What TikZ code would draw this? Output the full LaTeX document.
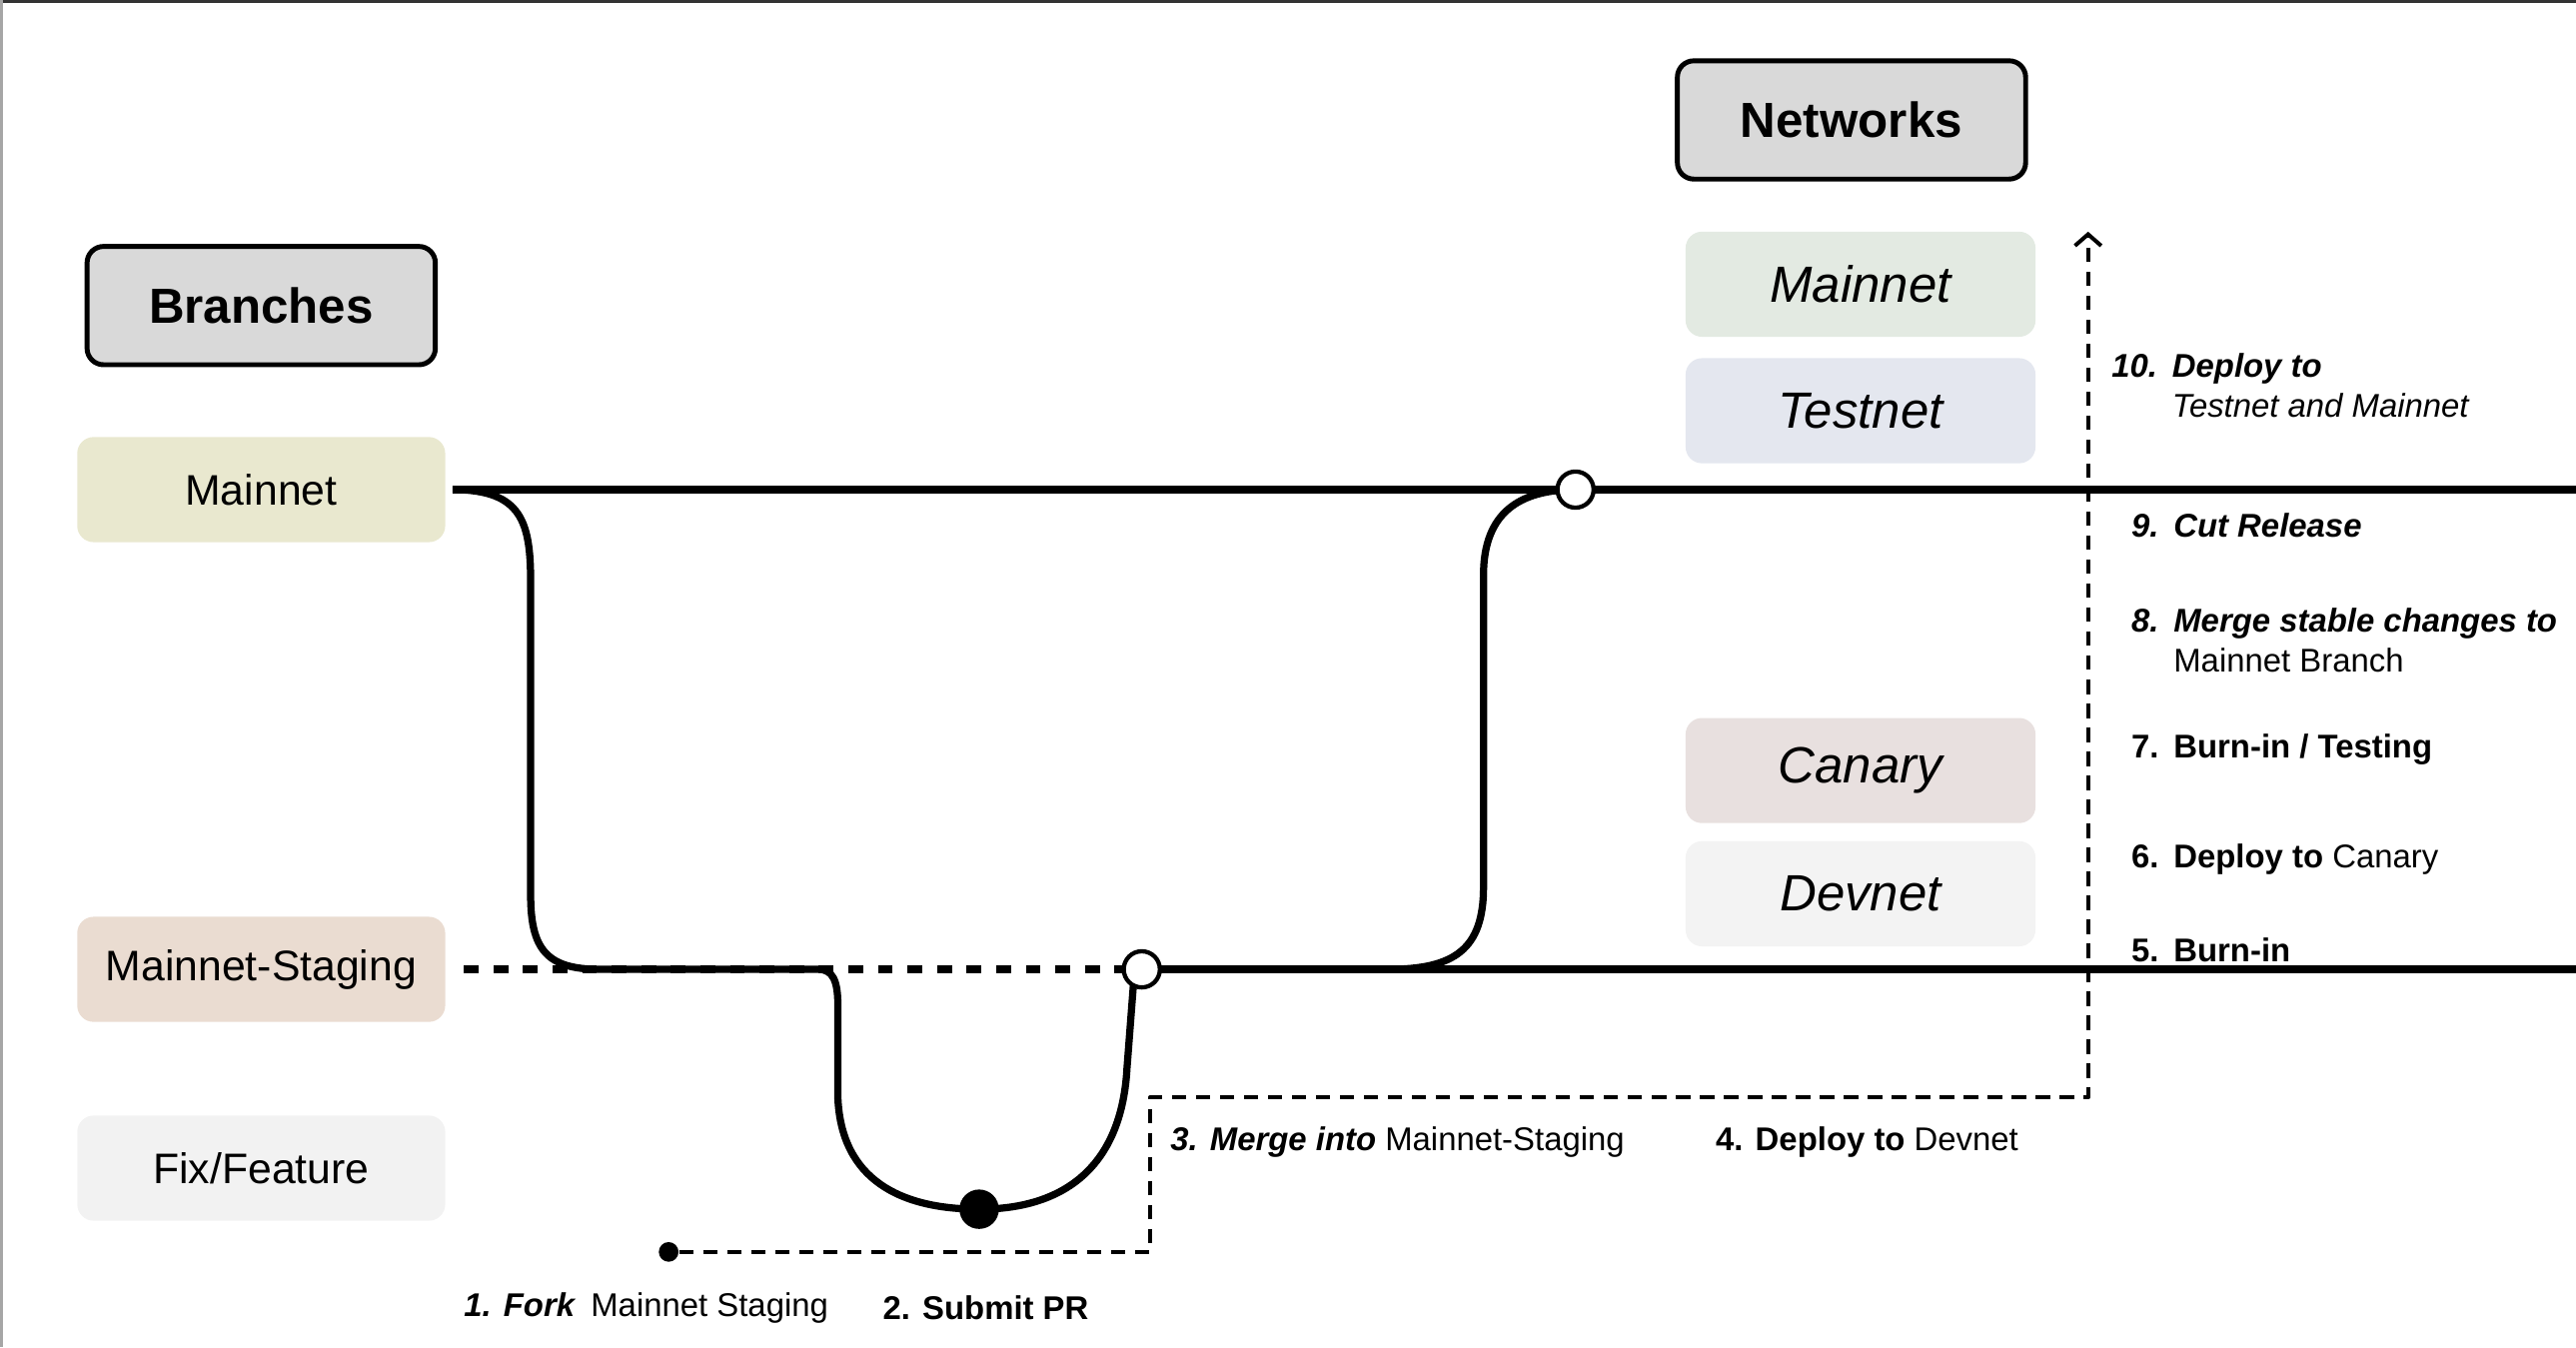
\documentclass[tikz,border=0pt]{standalone}
\usepackage{fontspec}
\setmainfont{Liberation Sans}
\usetikzlibrary{arrows.meta}
\definecolor{headgray}{HTML}{D9D9D9}
\definecolor{bmaincol}{HTML}{E9E8CF}
\definecolor{bstagecol}{HTML}{EADCD1}
\definecolor{bfixcol}{HTML}{F2F2F2}
\definecolor{nmaincol}{HTML}{E3EAE2}
\definecolor{ntestcol}{HTML}{E4E7EF}
\definecolor{ncanarycol}{HTML}{E8E0DF}
\definecolor{ndevcol}{HTML}{F3F3F3}
\begin{document}
\begin{tikzpicture}[x=0.5pt, y=-0.5pt, line join=round, >={Straight Barb[length=3.5pt,width=8pt]},
	head/.style={draw, line width=1.5pt, rounded corners=5pt, fill=headgray, minimum width=106pt, minimum height=36pt, inner sep=0pt, font=\fontsize{15}{18}\selectfont\bfseries},
	branchbox/.style={rounded corners=5pt, minimum width=112pt, minimum height=32pt, inner sep=0pt, font=\fontsize{13}{16}\selectfont},
	netbox/.style={rounded corners=5pt, minimum width=106.5pt, minimum height=32pt, inner sep=0pt, font=\fontsize{15.5}{18}\selectfont\itshape},
	branch/.style={line width=2.2pt},
	flow/.style={line width=1.2pt, dash pattern=on 4.3pt off 3pt},
	steplbl/.style={anchor=west, inner sep=0pt, align=left, font=\fontsize{10}{12}\selectfont},
	opendot/.style={circle, draw, line width=1.3pt, fill=white, minimum size=11pt, inner sep=0pt},
	]
	\useasboundingbox (0,0) rectangle (1568,820);
	\draw[black!80, line width=1pt] (0,1)--(1568,1);
	\draw[gray!70, line width=1pt] (1,0)--(1,820);
	% headers
	\node[head] (brhead) at (159,186) {Branches};
	\node[head] (nethead) at (1127,73) {Networks};
	% branches
	\node[branchbox, fill=bmaincol] (bmain) at (159,298) {Mainnet};
	\node[branchbox, fill=bstagecol] (bstage) at (159,590) {Mainnet-Staging};
	\node[branchbox, fill=bfixcol] (bfix) at (159,711) {Fix/Feature};
	% networks
	\node[netbox, fill=nmaincol] (nmain) at (1132.5,173) {Mainnet};
	\node[netbox, fill=ntestcol] (ntest) at (1132.5,250) {Testnet};
	\node[netbox, fill=ncanarycol] (ncanary) at (1132.5,469) {Canary};
	\node[netbox, fill=ndevcol] (ndev) at (1132.5,544) {Devnet};
	% points
	\coordinate (mstart) at ([xshift=2pt]bmain.east);
	\coordinate (sstart) at ([xshift=5.5pt]bstage.east);
	\coordinate (mend) at (1570,298);
	\coordinate (send) at (1570,590);
	\coordinate (cutpt) at (959,298);
	\coordinate (mergept) at (695,590);
	\coordinate (prpt) at (596,736);
	\coordinate (rjoin) at (845,590);
	\coordinate (d1) at (700,762);
	\coordinate (d2) at (700,668);
	\coordinate (d3) at (1271,668);
	\coordinate (d4) at (1271,141);
	% branch lines
	\draw[branch] (mstart)--(mend);
	\draw[branch, dash pattern=on 4.5pt off 4.5pt] (sstart)--(mergept);
	\draw[branch] (mergept)--(send);
	\draw[branch] (mstart) .. controls (318,298) and (323,318) .. (323,355)--(323,545) .. controls (323,578) and (333,590) .. (365,590)--(498,590) .. controls (507,590) and (510,597) .. (510,612)--(510,668) .. controls (512,718) and (548,736) .. (prpt);
	\draw[branch] (prpt) .. controls (652,736) and (683,706) .. (686,650)--(690,598)--(mergept);
	\draw[branch] (rjoin) .. controls (885,590) and (903,578) .. (903,540)--(903,350) .. controls (903,312) and (925,298) .. (cutpt);
	\node[circle, fill, minimum size=6pt, inner sep=0pt] (fork) at (407,762) {};
	\draw[flow, ->] (fork)--(d1)--(d2)--(d3)--(d4);
	\node[opendot] (cut) at (cutpt) {};
	\node[opendot] (merge) at (mergept) {};
	\node[circle, fill, minimum size=12pt, inner sep=0pt] (pr) at (prpt) {};
	% steps
	\node[steplbl] (s1) at (282,796) {\textbf{\textit{1. Fork}}\hspace{4.5pt}Mainnet Staging};
	\node[steplbl] (s2) at (537,796) {\textbf{2. Submit PR}};
	\node[steplbl] (s3) at (712,695) {\textbf{\textit{3. Merge into}} Mainnet-Staging};
	\node[steplbl] (s4) at (1044,695) {\textbf{4. Deploy to} Devnet};
	\node[steplbl] (s5) at (1297,578) {\textbf{5.}\hspace{4.5pt}\textbf{Burn-in}};
	\node[steplbl] (s6) at (1297,523) {\textbf{6.}\hspace{4.5pt}\textbf{Deploy to} Canary};
	\node[steplbl] (s7) at (1297,456) {\textbf{7.}\hspace{4.5pt}\textbf{Burn-in / Testing}};
	\node[steplbl] (s8) at (1297,392) {\begin{tabular}{@{}l@{\hspace{4.5pt}}l@{}}\textbf{\textit{8.}} & \textbf{\textit{Merge stable changes to}}\\ & Mainnet Branch\end{tabular}};
	\node[steplbl] (s9) at (1297,320) {\textbf{\textit{9.}}\hspace{4.5pt}\textbf{\textit{Cut Release}}};
	\node[steplbl] (s10) at (1285,237) {\begin{tabular}{@{}l@{\hspace{4.5pt}}l@{}}\textbf{\textit{10.}} & \textbf{\textit{Deploy to}}\\ & \textit{Testnet and Mainnet}\end{tabular}};
\end{tikzpicture}
\end{document}
